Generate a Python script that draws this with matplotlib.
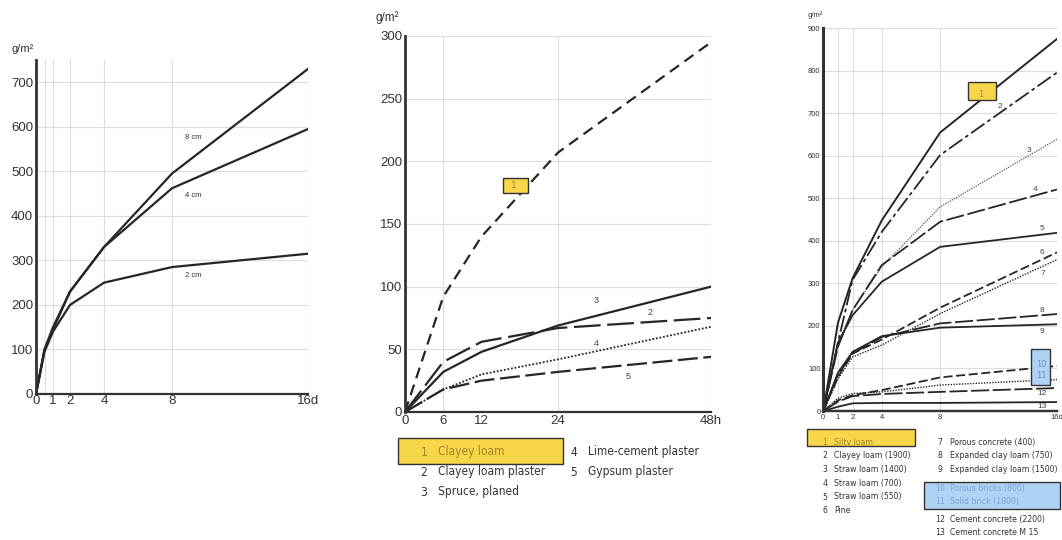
import matplotlib
matplotlib.use("Agg")
import matplotlib.pyplot as plt
from matplotlib.patches import Rectangle
from matplotlib import font_manager as fm

# ---------------- data ----------------
# Left panel: days
left_days = [0, 0.5, 1, 2, 4, 8, 16]
left_8cm = [0, 100, 150, 230, 330, 495, 730]
left_4cm = [0, 100, 145, 230, 330, 462, 595]
left_2cm = [0, 95, 140, 200, 250, 285, 315]
left_ticks = [0, 1, 2, 4, 8, 16]
left_ticklabels = ["0", "1", "2", "4", "8", "16d"]

# Middle panel: hours
mid_hours = [0, 6, 12, 24, 48]
mid_1 = [0, 92, 140, 207, 295]   # Clayey loam
mid_2 = [0, 40, 56, 67, 75]      # Clayey loam plaster
mid_3 = [0, 32, 48, 69, 100]     # Spruce, planed
mid_4 = [0, 18, 30, 42, 68]      # Lime-cement plaster
mid_5 = [0, 18, 25, 32, 44]      # Gypsum plaster
mid_ticks = [0, 6, 12, 24, 48]
mid_ticklabels = ["0", "6", "12", "24", "48h"]
mid_legend = ["Clayey loam", "Clayey loam plaster", "Spruce, planed",
              "Lime-cement plaster", "Gypsum plaster"]

# Right panel: days
right_days = [0, 1, 2, 4, 8, 16]
r1 = [0, 207, 312, 448, 655, 875]
r2 = [0, 160, 308, 421, 602, 796]
r3 = [0, 160, 237, 339, 480, 639]
r4 = [0, 151, 237, 343, 445, 521]
r5 = [0, 160, 225, 304, 386, 419]
r6 = [0, 80, 135, 168, 243, 373]
r7 = [0, 75, 127, 155, 229, 356]
r8 = [0, 85, 135, 174, 206, 228]
r9 = [0, 90, 139, 176, 196, 204]
r10 = [0, 25, 37, 49, 79, 106]
r11 = [0, 30, 41, 45, 61, 74]
r12 = [0, 22, 35, 40, 45, 54]
r13 = [0, 10, 18, 19, 19, 21]
right_ticks = [0, 1, 2, 4, 8, 16]
right_ticklabels = ["0", "1", "2", "4", "8", "16d"]
right_legend = ["Silty loam", "Clayey loam (1900)", "Straw loam (1400)",
                "Straw loam (700)", "Straw loam (550)", "Pine",
                "Porous concrete (400)", "Expanded clay loam (750)",
                "Expanded clay loam (1500)", "Porous bricks (800)",
                "Solid brick (1800)", "Cement concrete (2200)",
                "Cement concrete M 15"]

# ---------------- styling ----------------
W, H = 1062, 540
fig = plt.figure(figsize=(W / 100, H / 100), dpi=100)
fig.patch.set_facecolor("white")

TICKFONT = "Liberation Sans"
LINEC = "#262626"
GRIDC = "#dcdcdc"
YELLOW = "#F7D64A"
BLUE = "#AFD3F5"


def pick_legend_font():
    names = {f.name for f in fm.fontManager.ttflist}
    if "Liberation Sans Narrow" in names:
        return dict(family="Liberation Sans Narrow")
    for f in fm.fontManager.ttflist:
        if f.name == "DejaVu Sans" and "Condensed" in f.fname and "Bold" not in f.fname \
                and "Oblique" not in f.fname:
            return dict(fname=f.fname)
    return dict(family="Liberation Sans")


LEGFP = pick_legend_font()


def legprops(size):
    if "fname" in LEGFP:
        return fm.FontProperties(fname=LEGFP["fname"], size=size)
    return fm.FontProperties(family=LEGFP["family"], size=size)


renderer = fig.canvas.get_renderer()


def fit_size(text, target_px, base=10.0):
    t = fig.text(0, 0, text, fontproperties=legprops(base))
    w = t.get_window_extent(renderer).width
    t.remove()
    return base * target_px / w


def rect(l, r, top, bot):
    return [l / W, (H - bot) / H, (r - l) / W, (bot - top) / H]


def style_axes(ax, fs, lw_spine):
    for s in ["top", "right"]:
        ax.spines[s].set_visible(False)
    ax.spines["left"].set_linewidth(lw_spine)
    ax.spines["bottom"].set_linewidth(lw_spine * 0.8)
    ax.spines["left"].set_color("#333333")
    ax.spines["bottom"].set_color("#333333")
    ax.tick_params(length=0, labelsize=fs, colors="#333333", pad=2)
    for lab in ax.get_xticklabels() + ax.get_yticklabels():
        lab.set_family(TICKFONT)
    ax.set_axisbelow(True)


# ---------------- left panel ----------------
axL = fig.add_axes(rect(36, 308, 60, 394))
axL.set_xlim(0, 16)
axL.set_ylim(0, 750)
for xv in [0.5, 1, 2, 4, 8, 16]:
    axL.axvline(xv, color=GRIDC, lw=0.8, zorder=0)
for yv in range(100, 800, 100):
    axL.axhline(yv, color=GRIDC, lw=0.8, zorder=0)
axL.plot(left_days, left_8cm, color=LINEC, lw=1.6)
axL.plot(left_days, left_4cm, color=LINEC, lw=1.6)
axL.plot(left_days, left_2cm, color=LINEC, lw=1.6)
axL.set_xticks(left_ticks)
axL.set_xticklabels(left_ticklabels)
axL.set_yticks(range(0, 800, 100))
style_axes(axL, 9.5, 2.0)
axL.tick_params(axis="x", pad=1)
for txt, yv in [("8 cm", 575), ("4 cm", 445), ("2 cm", 265)]:
    axL.text(9.25, yv, txt, fontsize=5.5, color="#333333", family=TICKFONT,
             ha="center", va="center")
fig.text(12 / W, 1 - 49 / H, "g/m²", fontsize=8, family=TICKFONT,
         color="#333333", va="center")

# ---------------- middle panel ----------------
axM = fig.add_axes(rect(405, 711, 36, 412))
axM.set_xlim(0, 48)
axM.set_ylim(0, 300)
for xv in [6, 24, 48]:
    axM.axvline(xv, color=GRIDC, lw=0.8, zorder=0)
for yv in range(50, 350, 50):
    axM.axhline(yv, color=GRIDC, lw=0.8, zorder=0)
axM.plot(mid_hours, mid_1, color=LINEC, lw=1.6, dashes=(5, 3))
axM.plot(mid_hours, mid_2, color=LINEC, lw=1.6, dashes=(12, 3))
axM.plot(mid_hours, mid_3, color=LINEC, lw=1.6)
axM.plot(mid_hours, mid_4, color=LINEC, lw=1.3, dashes=(1, 1))
axM.plot(mid_hours, mid_5, color=LINEC, lw=1.6, dashes=(9, 2.5))
axM.set_xticks(mid_ticks)
axM.set_xticklabels(mid_ticklabels)
axM.set_yticks(range(0, 350, 50))
style_axes(axM, 9.5, 2.0)
for txt, xv, yv in [("3", 30, 89), ("2", 38.5, 79), ("4", 30, 55), ("5", 35, 28)]:
    axM.text(xv, yv, txt, fontsize=6.5, color="#444444", family=TICKFONT,
             ha="center", va="center")
axM.add_patch(Rectangle((15.4, 175), 3.9, 12, facecolor=YELLOW,
                        edgecolor="#333333", lw=1.0, zorder=3))
axM.text(17.0, 181, "1", fontsize=6.5, color="#9c8a3a", ha="center",
         va="center", zorder=4)
fig.text(376 / W, 1 - 18 / H, "g/m²", fontsize=8.5, family=TICKFONT,
         color="#333333", va="center")

# middle legend
fig.patches.append(Rectangle((398 / W, 1 - 464 / H), 165 / W, 26 / H,
                             transform=fig.transFigure, facecolor=YELLOW,
                             edgecolor="#333333", lw=1.0))
mid_fs = min(fit_size("Lime-cement plaster", 111), 11.5)
mid_pos = [(424, 438, 452), (424, 438, 472), (424, 438, 492),
           (574, 588, 452), (574, 588, 472)]
for i, (nx, tx, ty) in enumerate(mid_pos):
    col = "#a4862a" if i == 0 else "#333333"
    fig.text(nx / W, 1 - ty / H, str(i + 1), fontproperties=legprops(mid_fs),
             color=col, va="center", ha="center")
    fig.text(tx / W, 1 - ty / H, mid_legend[i], fontproperties=legprops(mid_fs),
             color=col, va="center", ha="left")

# ---------------- right panel ----------------
axR = fig.add_axes(rect(823.3, 1057, 28.3, 411))
axR.set_xlim(0, 16)
axR.set_ylim(0, 900)
for xv in [1, 2, 4, 8]:
    axR.axvline(xv, color=GRIDC, lw=0.8, zorder=0)
for yv in range(100, 1000, 100):
    axR.axhline(yv, color=GRIDC, lw=0.8, zorder=0)
rstyles = [
    (r1, dict(lw=1.4)),
    (r2, dict(lw=1.3, dashes=(9, 2, 2, 2))),
    (r3, dict(lw=0.9, dashes=(1, 1), color="#555555")),
    (r4, dict(lw=1.3, dashes=(10, 2))),
    (r5, dict(lw=1.3)),
    (r6, dict(lw=1.3, dashes=(5, 2))),
    (r7, dict(lw=1.0, dashes=(1, 1))),
    (r8, dict(lw=1.3, dashes=(10, 2))),
    (r9, dict(lw=1.3)),
    (r10, dict(lw=1.3, dashes=(5, 2))),
    (r11, dict(lw=1.0, dashes=(1, 1))),
    (r12, dict(lw=1.3, dashes=(10, 2))),
    (r13, dict(lw=1.3)),
]
for vals, kw in rstyles:
    kw.setdefault("color", LINEC)
    axR.plot(right_days, vals, **kw)
axR.set_xticks(right_ticks)
axR.set_xticklabels(right_ticklabels)
axR.set_yticks(range(0, 1000, 100))
style_axes(axR, 5.5, 2.2)

rlabels = [("2", 12.1, 715), ("3", 14.1, 612), ("4", 14.5, 520),
           ("5", 15.0, 430), ("6", 15.0, 372), ("7", 15.0, 324),
           ("8", 15.0, 236), ("9", 15.0, 186), ("12", 15.0, 40),
           ("13", 15.0, 10)]
for txt, xv, yv in rlabels:
    axR.text(xv, yv, txt, fontsize=6, color="#444444", family=TICKFONT,
             ha="center", va="center")
axR.add_patch(Rectangle((9.9, 731), 1.9, 42, facecolor=YELLOW,
                        edgecolor="#333333", lw=1.0, zorder=3))
axR.text(10.75, 745, "1", fontsize=6, color="#9c8a3a", ha="center",
         va="center", zorder=4)
axR.add_patch(Rectangle((14.2, 61), 1.3, 84, facecolor=BLUE,
                        edgecolor="#333333", lw=1.0, zorder=3))
axR.text(14.95, 110, "10", fontsize=6, color="#6f93c0", ha="center",
         va="center", zorder=4)
axR.text(14.95, 84, "11", fontsize=6, color="#6f93c0", ha="center",
         va="center", zorder=4)
fig.text(808 / W, 1 - 15 / H, "g/m²", fontsize=5.5, family=TICKFONT,
         color="#333333", va="center")

# right legend
fig.patches.append(Rectangle((807 / W, 1 - 446 / H), 108 / W, 17 / H,
                             transform=fig.transFigure, facecolor=YELLOW,
                             edgecolor="#333333", lw=1.0))
fig.patches.append(Rectangle((924 / W, 1 - 509 / H), 136 / W, 27 / H,
                             transform=fig.transFigure, facecolor=BLUE,
                             edgecolor="#333333", lw=1.0))
r_fs = min(fit_size("Expanded clay loam (1500)", 108), 8.5)
col1_y = [442.7, 456, 469.5, 483.3, 497, 510.7]
col2_y = [442.7, 456, 470, 488.3, 501.7, 519.5, 532.7]
for i, name in enumerate(right_legend):
    if i < 6:
        nx, tx, ty = 825, 834, col1_y[i]
    else:
        nx, tx, ty = 940, 950, col2_y[i - 6]
    if i == 0:
        col = "#a4862a"
    elif i in (9, 10):
        col = "#7ea3cf"
    else:
        col = "#333333"
    fig.text(nx / W, 1 - ty / H, str(i + 1), fontproperties=legprops(r_fs),
             color=col, va="center", ha="center")
    fig.text(tx / W, 1 - ty / H, name, fontproperties=legprops(r_fs),
             color=col, va="center", ha="left")

fig.savefig("out.png", dpi=100, facecolor="white")
